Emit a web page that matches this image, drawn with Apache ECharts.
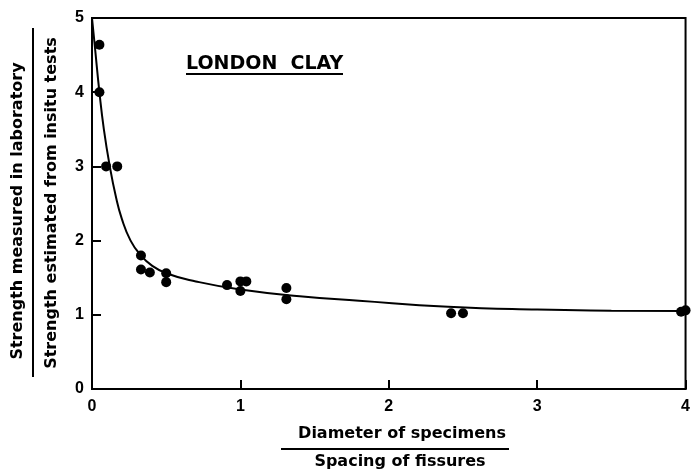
<!DOCTYPE html>
<html>
<head>
<meta charset="utf-8">
<script src="https://cdn.jsdelivr.net/npm/echarts@6/dist/echarts.min.js"></script>
<style>
  html, body { margin: 0; padding: 0; background: #fff; }
  #chart { width: 693px; height: 472px; }
</style>
</head>
<body>
<div id="chart"></div>
<script>
// measured points: [diameter/spacing, strength ratio]
const testPoints = [
  [0.05, 4.64], [0.05, 4.0], [0.095, 3.0], [0.17, 3.0],
  [0.33, 1.8], [0.33, 1.61], [0.39, 1.57], [0.5, 1.56], [0.5, 1.44],
  [0.91, 1.4], [1.0, 1.45], [1.0, 1.32], [1.04, 1.45],
  [1.31, 1.36], [1.31, 1.21],
  [2.42, 1.02], [2.5, 1.02],
  [3.97, 1.04], [4.0, 1.06]
];
// fitted curve
const curvePoints = [
  [0, 5], [0.02, 4.6], [0.05, 4.0], [0.08, 3.5], [0.12, 3.0], [0.16, 2.6],
  [0.2, 2.3], [0.26, 2.0], [0.33, 1.8], [0.4, 1.67], [0.5, 1.56], [0.7, 1.45],
  [1.0, 1.34], [1.4, 1.25], [1.8, 1.19], [2.4, 1.11], [3.0, 1.07], [3.5, 1.055], [4.0, 1.05]
];
const yTitleTop = "Strength measured in laboratory";
const yTitleBottom = "Strength estimated from insitu tests";
const xTitleTop = "Diameter of specimens";
const xTitleBottom = "Spacing of fissures";
const label = "LONDON  CLAY";

const font = '"Liberation Sans", Arial, sans-serif';
const wide = '"DejaVu Sans", sans-serif';
const chart = echarts.init(document.getElementById("chart"));

const option = {
  backgroundColor: "#fff",
  animation: false,
  grid: {
    left: 92, top: 18, right: 6, bottom: 83,
    show: true, borderColor: "#000", borderWidth: 2
  },
  xAxis: {
    type: "value", min: 0, max: 4, interval: 1,
    axisLine: { lineStyle: { color: "#000", width: 2 } },
    axisTick: { inside: true, length: 9, lineStyle: { color: "#000", width: 2 } },
    splitLine: { show: false },
    axisLabel: { color: "#000", fontFamily: font, fontWeight: "bold", fontSize: 16, margin: 10 }
  },
  yAxis: {
    type: "value", min: 0, max: 5, interval: 1,
    axisLine: { lineStyle: { color: "#000", width: 2 } },
    axisTick: { inside: true, length: 9, lineStyle: { color: "#000", width: 2 } },
    splitLine: { show: false },
    axisLabel: { color: "#000", fontFamily: font, fontWeight: "bold", fontSize: 16, margin: 8 }
  },
  series: [
    {
      type: "line", data: curvePoints, smooth: 0.5,
      showSymbol: false, lineStyle: { color: "#000", width: 2 }, z: 2
    },
    {
      type: "scatter", data: testPoints, symbolSize: 10,
      itemStyle: { color: "#000", opacity: 1 }, z: 3
    }
  ],
  graphic: [
    {
      type: "text", x: 186, y: 64,
      style: { text: label, font: "bold 19px " + wide, fill: "#000", verticalAlign: "middle" }
    },
    { type: "rect", shape: { x: 186, y: 73, width: 157, height: 2 }, style: { fill: "#000" } },
    {
      type: "text", x: 18, y: 211, rotation: Math.PI / 2,
      style: { text: yTitleTop, font: "bold 16px " + wide, fill: "#000", align: "center", verticalAlign: "middle" }
    },
    { type: "rect", shape: { x: 32, y: 28, width: 2, height: 349 }, style: { fill: "#000" } },
    {
      type: "text", x: 52, y: 203, rotation: Math.PI / 2,
      style: { text: yTitleBottom, font: "bold 16px " + wide, fill: "#000", align: "center", verticalAlign: "middle" }
    },
    {
      type: "text", x: 402, y: 434,
      style: { text: xTitleTop, font: "bold 16px " + wide, fill: "#000", align: "center", verticalAlign: "middle" }
    },
    { type: "rect", shape: { x: 281, y: 448, width: 228, height: 2 }, style: { fill: "#000" } },
    {
      type: "text", x: 400, y: 462,
      style: { text: xTitleBottom, font: "bold 16px " + wide, fill: "#000", align: "center", verticalAlign: "middle" }
    }
  ]
};
chart.setOption(option);
</script>
</body>
</html>
